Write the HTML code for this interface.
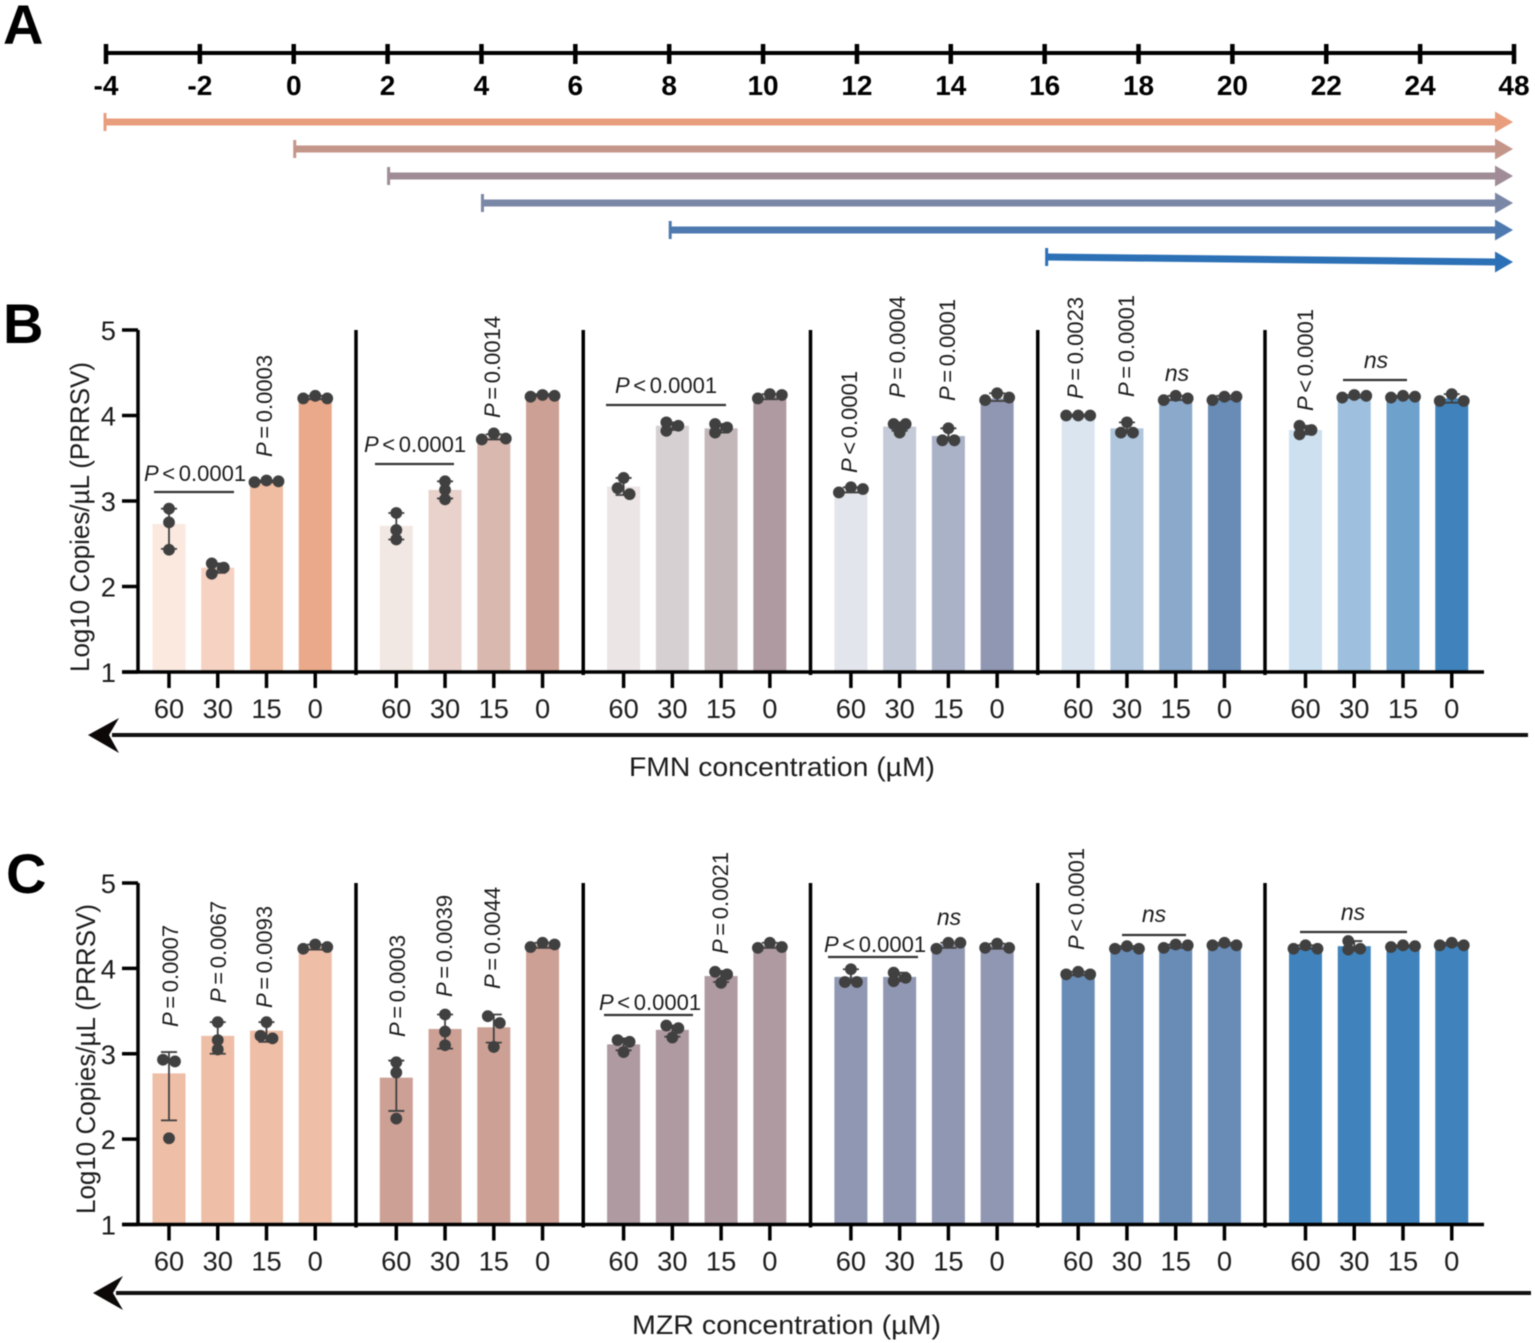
<!DOCTYPE html>
<html lang="en">
<head>
<meta charset="utf-8">
<title>PRRSV copies by FMN and MZR concentration</title>
<style>
html,body{margin:0;padding:0;background:#fff;}
svg{display:block;font-family:"Liberation Sans",Arial,sans-serif;filter:blur(0.4px);}
.ann{font-size:22px;fill:#1c1c1c;word-spacing:-2.5px;}
.ann tspan{font-style:italic;}
.ns{font-size:23px;fill:#1c1c1c;font-style:italic;text-anchor:middle;}
.sig{stroke:#333;stroke-width:2.2;}
</style>
</head>
<body>
<svg id="figure" xmlns="http://www.w3.org/2000/svg" width="1535" height="1343" viewBox="0 0 1535 1343">
  <rect width="1535" height="1343" fill="#fff"/>
  <text x="3" y="44" font-size="56" font-weight="700" fill="#000">A</text>
  <text x="3" y="343" font-size="56" font-weight="700" fill="#000">B</text>
  <text x="6" y="893" font-size="56" font-weight="700" fill="#000">C</text>

  <g id="timeline"></g>
  <g id="panelB"></g>
  <g id="panelC"></g>

  <text transform="translate(89,672) rotate(-90)" font-size="26.5" fill="#1c1c1c" textLength="310" lengthAdjust="spacingAndGlyphs">Log10 Copies/µL (PRRSV)</text>
  <text transform="translate(95,1214) rotate(-90)" font-size="26.5" fill="#1c1c1c" textLength="310" lengthAdjust="spacingAndGlyphs">Log10 Copies/µL (PRRSV)</text>

  <g>
    <line x1="112" y1="735" x2="1528" y2="735" stroke="#111" stroke-width="4"/>
    <path d="M88 735 L119 718 L109 735 L119 753 Z" fill="#0c0808"/>
  </g>
  <text x="629" y="776" font-size="27" fill="#1c1c1c" textLength="306" lengthAdjust="spacingAndGlyphs">FMN concentration (µM)</text>
  <g>
    <line x1="116" y1="1293" x2="1531" y2="1293" stroke="#111" stroke-width="4"/>
    <path d="M93 1293 L123 1276 L113 1293 L123 1310 Z" fill="#0c0808"/>
  </g>
  <text x="632" y="1334" font-size="27" fill="#1c1c1c" textLength="309" lengthAdjust="spacingAndGlyphs">MZR concentration (µM)</text>

  <g>
    <text class="ann" x="144" y="481"><tspan>P</tspan> &lt; 0.0001</text>
    <line class="sig" x1="154" y1="492" x2="234" y2="492"/>
    <text class="ann" transform="translate(272,457) rotate(-90)"><tspan>P</tspan> = 0.0003</text>
    <text class="ann" x="364" y="452"><tspan>P</tspan> &lt; 0.0001</text>
    <line class="sig" x1="375" y1="464" x2="454" y2="464"/>
    <text class="ann" transform="translate(500,418) rotate(-90)"><tspan>P</tspan> = 0.0014</text>
    <text class="ann" x="615" y="393"><tspan>P</tspan> &lt; 0.0001</text>
    <line class="sig" x1="606" y1="405" x2="726" y2="405"/>
    <text class="ann" transform="translate(857,473) rotate(-90)"><tspan>P</tspan> &lt; 0.0001</text>
    <text class="ann" transform="translate(905,398) rotate(-90)"><tspan>P</tspan> = 0.0004</text>
    <text class="ann" transform="translate(955,401) rotate(-90)"><tspan>P</tspan> = 0.0001</text>
    <text class="ann" transform="translate(1083,399) rotate(-90)"><tspan>P</tspan> = 0.0023</text>
    <text class="ann" transform="translate(1134,397) rotate(-90)"><tspan>P</tspan> = 0.0001</text>
    <text class="ns" x="1177" y="381">ns</text>
    <text class="ann" transform="translate(1313,411) rotate(-90)"><tspan>P</tspan> &lt; 0.0001</text>
    <text class="ns" x="1376" y="368">ns</text>
    <line class="sig" x1="1343" y1="380" x2="1407" y2="380"/>
  </g>

  <g>
    <text class="ann" transform="translate(178,1027) rotate(-90)"><tspan>P</tspan> = 0.0007</text>
    <text class="ann" transform="translate(226,1003) rotate(-90)"><tspan>P</tspan> = 0.0067</text>
    <text class="ann" transform="translate(272,1008) rotate(-90)"><tspan>P</tspan> = 0.0093</text>
    <text class="ann" transform="translate(405,1037) rotate(-90)"><tspan>P</tspan> = 0.0003</text>
    <text class="ann" transform="translate(452,997) rotate(-90)"><tspan>P</tspan> = 0.0039</text>
    <text class="ann" transform="translate(500,989) rotate(-90)"><tspan>P</tspan> = 0.0044</text>
    <text class="ann" x="599" y="1010"><tspan>P</tspan> &lt; 0.0001</text>
    <line class="sig" x1="604" y1="1015" x2="693" y2="1015"/>
    <text class="ann" transform="translate(728,954) rotate(-90)"><tspan>P</tspan> = 0.0021</text>
    <text class="ann" x="824" y="952"><tspan>P</tspan> &lt; 0.0001</text>
    <line class="sig" x1="828" y1="957" x2="918" y2="957"/>
    <text class="ns" x="949" y="925">ns</text>
    <text class="ann" transform="translate(1084,950) rotate(-90)"><tspan>P</tspan> &lt; 0.0001</text>
    <text class="ns" x="1154" y="922">ns</text>
    <line class="sig" x1="1122" y1="935" x2="1186" y2="935"/>
    <text class="ns" x="1353" y="920">ns</text>
    <line class="sig" x1="1300" y1="932" x2="1407" y2="932"/>
  </g>
</svg>

<script>
const timelineLabels = ['-4','-2','0','2','4','6','8','10','12','14','16','18','20','22','24','48'];
const treatmentStarts = ['-4','0','2','4','8','16'];
const treatmentColors = ['#e89d7d','#c4968a','#9f8c96','#7b87a7','#4f7ab0','#2c70b6'];
const concentrations = ['60','30','15','0'];
const valueTicks = [1,2,3,4,5];

const fmnMeans = [
  [2.73,2.22,3.23,4.21],
  [2.71,3.13,3.75,4.24],
  [3.17,3.88,3.85,4.22],
  [3.12,3.87,3.76,4.20],
  [4.00,3.85,4.20,4.21],
  [3.83,4.23,4.22,4.20]
];
const fmnPoints = [
  [[2.91,2.75,2.43],[2.27,2.22,2.15],[3.22,3.24,3.23],[4.20,4.23,4.20]],
  [[2.86,2.66,2.55],[3.23,3.13,3.02],[3.72,3.79,3.73],[4.22,4.24,4.23]],
  [[3.27,3.15,3.08],[3.92,3.88,3.82],[3.90,3.86,3.80],[4.20,4.25,4.24]],
  [[3.10,3.16,3.14],[3.90,3.90,3.80],[3.85,3.71,3.71],[4.18,4.26,4.21]],
  [[4.00,4.00,4.00],[3.92,3.80,3.80],[4.18,4.23,4.20],[4.18,4.22,4.22]],
  [[3.88,3.83,3.78],[4.21,4.24,4.23],[4.21,4.22,4.23],[4.25,4.17,4.17]]
];
const fmnErrHigh = [
  [2.91,2.27,3.24,4.23],
  [2.86,3.23,3.78,4.25],
  [3.27,3.92,3.90,4.25],
  [3.16,3.92,3.85,4.26],
  [4.01,3.92,4.23,4.23],
  [3.88,4.24,4.23,4.25]
];
const fmnErrLow = [
  [2.44,2.16,3.22,4.19],
  [2.55,3.03,3.72,4.23],
  [3.07,3.83,3.80,4.19],
  [3.10,3.82,3.71,4.17],
  [3.99,3.80,4.18,4.19],
  [3.78,4.21,4.21,4.15]
];

const mzrMeans = [
  [2.77,3.21,3.27,4.25],
  [2.72,3.29,3.31,4.27],
  [3.11,3.28,3.91,4.27],
  [3.90,3.90,4.28,4.26],
  [3.94,4.25,4.27,4.29],
  [4.25,4.26,4.26,4.29]
];
const mzrPoints = [
  [[2.93,2.91,2.01],[3.37,3.16,3.05],[3.37,3.21,3.18],[4.23,4.28,4.25]],
  [[2.90,2.78,2.24],[3.46,3.26,3.10],[3.44,3.36,3.08],[4.25,4.30,4.28]],
  [[3.16,3.14,3.02],[3.33,3.30,3.19],[3.96,3.93,3.83],[4.25,4.30,4.24]],
  [[3.99,3.84,3.84],[3.95,3.89,3.85],[4.23,4.30,4.30],[4.24,4.29,4.24]],
  [[3.93,3.96,3.93],[4.23,4.26,4.23],[4.24,4.28,4.27],[4.27,4.30,4.27]],
  [[4.23,4.27,4.23],[4.32,4.23,4.22],[4.25,4.27,4.26],[4.27,4.30,4.27]]
];
const mzrErrHigh = [
  [3.02,3.37,3.37,4.28],
  [2.92,3.46,3.46,4.30],
  [3.18,3.33,3.97,4.30],
  [3.99,3.95,4.30,4.29],
  [3.96,4.26,4.28,4.30],
  [4.27,4.32,4.27,4.30]
];
const mzrErrLow = [
  [2.22,3.00,3.14,4.22],
  [2.33,3.06,3.13,4.24],
  [3.04,3.20,3.84,4.24],
  [3.83,3.85,4.24,4.23],
  [3.92,4.23,4.24,4.27],
  [4.23,4.21,4.25,4.27]
];

const fmnColors = [
  ['#fbe9e0','#f5d2c2','#f0bca2','#e9a98a'],
  ['#f2e8e3','#e8d2cb','#d9b9af','#cca094'],
  ['#ebe5e5','#d7d0d2','#c4b7ba','#ae9aa0'],
  ['#e3e5ec','#c5cad8','#a9b2c7','#9097b2'],
  ['#dbe5f0','#afc6dd','#8aa9cb','#688cb6'],
  ['#cde0f0','#9ebfdd','#6fa1cd','#4083bc']
];
const mzrColors = ['#eebea6','#cca094','#ae9aa0','#9097b2','#688cb6','#4083bc'];

const SVGNS = 'http://www.w3.org/2000/svg';
function node(parent, tag, attrs) {
  const el = document.createElementNS(SVGNS, tag);
  for (const k in attrs) el.setAttribute(k, attrs[k]);
  parent.appendChild(el);
  return el;
}

/* ---------- Panel A ---------- */
const timeline = document.getElementById('timeline');
function timeX(label) {
  return 106 + timelineLabels.indexOf(label) * (1408 / (timelineLabels.length - 1));
}
const timeAxis = node(timeline, 'line', {x1: timeX('-4'), x2: timeX('48'), y1: 53, y2: 53, stroke: '#000', 'stroke-width': 4});


timelineLabels.forEach(function (lab) {
  const x = timeX(lab);
  const tick = node(timeline, 'line', {x1: x, x2: x, y1: 44, y2: 64, stroke: '#000', 'stroke-width': 4.5});
  
  
  const t = node(timeline, 'text', {x: x, y: 95, 'font-size': 28, 'font-weight': 700, 'text-anchor': 'middle', fill: '#000'});
  t.textContent = lab;
  
  
});
treatmentStarts.forEach(function (start, i) {
  const y0 = i < 5 ? 122 + 27 * i : 257;
  const y1 = i < 5 ? y0 : 262;
  const x0 = timeX(start) + (i === 0 ? -1 : i === 5 ? 2 : 1);
  const g = node(timeline, 'g', {});
  
  
  const c = treatmentColors[i];
  node(g, 'line', {x1: x0, x2: x0, y1: y0 - 9, y2: y0 + 9, stroke: c, 'stroke-width': 3});
  node(g, 'line', {x1: x0, x2: 1497, y1: y0, y2: y1, stroke: c, 'stroke-width': 7});
  node(g, 'path', {d: 'M1495 ' + (y1 - 10.5) + ' L1513 ' + y1 + ' L1495 ' + (y1 + 10.5) + ' Z', fill: c});
});

/* ---------- Panels B and C ---------- */
const GROUP_STEP = 227.3;
const BAR_STEP = 48.75;
const BAR_W = 33;
const DOT_R = 5.9;

function swarm(values, unit) {
  const sorted = values.slice().sort(function (a, b) { return b - a; });
  const placed = [];
  const candidates = [0, 12, -12, 6, -6];
  sorted.forEach(function (v) {
    let off = 0;
    for (const c of candidates) {
      const free = placed.every(function (p) {
        const dx = c - p.off, dy = (p.v - v) * unit;
        return dx * dx + dy * dy >= 64;
      });
      if (free) { off = c; break; }
    }
    placed.push({v: v, off: off});
  });
  let start = 0;
  for (let i = 1; i <= placed.length; i++) {
    if (i === placed.length || (placed[i - 1].v - placed[i].v) * unit >= 8) {
      const offs = placed.slice(start, i).map(function (p) { return p.off; });
      const mid = (Math.min.apply(null, offs) + Math.max.apply(null, offs)) / 2;
      for (let j = start; j < i; j++) placed[j].off -= mid;
      start = i;
    }
  }
  return placed;
}

function drawPanel(root, prefix, cfg) {
  const unit = (cfg.base - cfg.top) / (valueTicks[valueTicks.length - 1] - valueTicks[0]);
  const yScale = function (v) { return cfg.base - (v - valueTicks[0]) * unit; };
  const xScale = function (g, b) { return 169 + g * GROUP_STEP + b * BAR_STEP; };

  cfg.means.forEach(function (group, g) {
    group.forEach(function (mean, b) {
      const cx = xScale(g, b);
      const bar = node(root, 'rect', {x: cx - BAR_W / 2, y: yScale(mean), width: BAR_W, height: cfg.base - yScale(mean), fill: cfg.color(g, b)});
      
      
    });
  });

  for (let g = 0; g < cfg.means.length; g++) {
    const sx = g === 0 ? 138 : 356 + (g - 1) * 227.25;
    const sep = node(root, 'line', {x1: sx, x2: sx, y1: cfg.top, y2: cfg.base + (g === 0 ? 0 : 3), stroke: '#000', 'stroke-width': 3.5});
    
    
  }
  const xAxis = node(root, 'line', {x1: 122, x2: 1484, y1: cfg.base, y2: cfg.base, stroke: '#000', 'stroke-width': 3.5});
  
  

  valueTicks.forEach(function (v) {
    const y = yScale(v);
    const tick = node(root, 'line', {x1: 122, x2: 138, y1: y, y2: y, stroke: '#000', 'stroke-width': 3.5});
    
    
    const t = node(root, 'text', {transform: 'translate(116,' + (y + 10) + ') scale(1.03,1)', 'font-size': 26.5, 'text-anchor': 'end', fill: '#1c1c1c'});
    t.textContent = v;
    
    
  });

  cfg.means.forEach(function (group, g) {
    concentrations.forEach(function (lab, b) {
      const cx = xScale(g, b);
      const tick = node(root, 'line', {x1: cx, x2: cx, y1: cfg.base, y2: cfg.base + 16, stroke: '#000', 'stroke-width': 3.5});
      
      
      const t = node(root, 'text', {transform: 'translate(' + cx + ',' + (cfg.base + 46) + ') scale(1.03,1)', 'font-size': 26.5, 'text-anchor': 'middle', fill: '#1c1c1c'});
      t.textContent = lab;
      
      
    });
  });

  cfg.points.forEach(function (group, g) {
    group.forEach(function (pts, b) {
      const cx = xScale(g, b);
      const hi = yScale(cfg.errHigh[g][b]);
      const lo = yScale(cfg.errLow[g][b]);
      const err = node(root, 'path', {d: 'M' + cx + ' ' + hi + ' V' + lo + ' M' + (cx - 8) + ' ' + hi + ' H' + (cx + 8) + ' M' + (cx - 8) + ' ' + lo + ' H' + (cx + 8), stroke: '#404040', 'stroke-width': 1.8, fill: 'none'});
      
      
      swarm(pts, unit).forEach(function (p) {
        const dot = node(root, 'circle', {cx: cx + p.off, cy: yScale(p.v), r: DOT_R, fill: '#404040'});
        
        
      });
    });
  });
}

drawPanel(document.getElementById('panelB'), 'fmn', {
  base: 672, top: 330,
  means: fmnMeans, points: fmnPoints, errHigh: fmnErrHigh, errLow: fmnErrLow,
  color: function (g, b) { return fmnColors[g][b]; }
});
drawPanel(document.getElementById('panelC'), 'mzr', {
  base: 1224.5, top: 883,
  means: mzrMeans, points: mzrPoints, errHigh: mzrErrHigh, errLow: mzrErrLow,
  color: function (g) { return mzrColors[g]; }
});
</script>
</body>
</html>
